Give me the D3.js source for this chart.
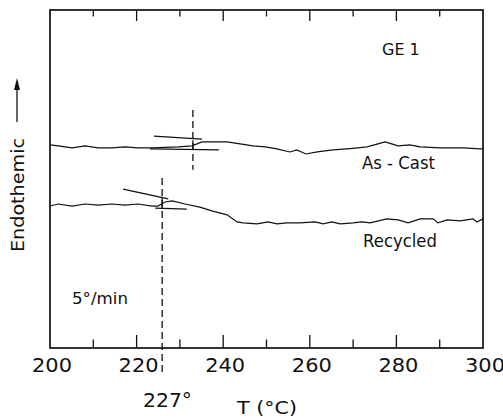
<!DOCTYPE html>
<html>
<head>
<meta charset="utf-8">
<script src="https://cdn.jsdelivr.net/npm/d3@7"></script>
<style>
  body { margin: 0; background: #fff; }
  text { font-family: "DejaVu Sans", sans-serif; fill: #111; }
</style>
</head>
<body>
<svg id="chart"></svg>
<script>
// DSC traces (T in °C, signal in arbitrary units)
const asCastT = [200, 201.9, 205.1, 208.1, 211.1, 214.3, 217.3, 220.3, 223.6, 229.6, 232.8, 235.1, 237.6, 240.9, 243.9, 246.9, 249.7, 252.4, 255.4, 257.0, 259.1, 261.7, 265.4, 268.6, 271.1, 273.2, 277.4, 280.4, 283.1, 285.5, 290.1, 292.4, 295.4, 299.3, 300];
const asCastS = [6.01, 5.98, 5.92, 5.98, 5.92, 5.92, 5.95, 5.92, 5.92, 5.95, 5.98, 6.10, 6.10, 6.10, 6.04, 5.98, 5.95, 5.89, 5.80, 5.86, 5.74, 5.80, 5.86, 5.89, 5.92, 5.95, 6.10, 5.98, 6.01, 5.95, 5.92, 5.92, 5.92, 5.89, 5.89];

const recycledT = [200, 201.9, 205.1, 208.1, 211.1, 214.3, 217.3, 220.3, 223.6, 224.9, 226.6, 228.2, 231.2, 234.6, 237.6, 240.9, 243.2, 244.6, 247.8, 250.4, 252.4, 254.7, 257.7, 261.2, 263.1, 265.1, 267.0, 270.0, 272.1, 273.9, 277.8, 280.4, 282.7, 285.5, 288.5, 289.6, 291.7, 294.7, 297.7, 298.6, 300];
const recycledS = [4.20, 4.26, 4.20, 4.26, 4.23, 4.26, 4.23, 4.26, 4.20, 4.20, 4.32, 4.35, 4.26, 4.17, 4.05, 3.94, 3.73, 3.70, 3.67, 3.73, 3.67, 3.70, 3.70, 3.73, 3.67, 3.73, 3.67, 3.70, 3.73, 3.70, 3.82, 3.79, 3.70, 3.82, 3.82, 3.70, 3.79, 3.76, 3.82, 3.73, 3.82];

// tangent constructions [[T1, S1], [T2, S2]]
const asCastTangents = [[[224.0, 6.27], [235.1, 6.18]], [[223.1, 5.89], [239.0, 5.86]], [[233.0, 6.15], [233.0, 5.89]]];
const recycledTangents = [[[216.9, 4.70], [227.3, 4.41]], [[224.3, 4.14], [231.6, 4.11]], [[225.9, 4.47], [225.9, 4.14]]];

// dashed onset markers: T, from signal, to signal
const onsets = [[233.0, 7.04, 5.27], [225.9, 5.03, -0.80]];

const xTicks = [200, 220, 240, 260, 280, 300];
const minorTicks = [210, 220, 230, 240, 250, 260, 270, 280, 290];

const width = 503, height = 418;
const margin = { top: 10, right: 20, bottom: 70, left: 50 };

const svg = d3.select("#chart").attr("width", width).attr("height", height);

const x = d3.scaleLinear().domain([200, 300]).range([margin.left, width - margin.right]);
const y = d3.scaleLinear().domain([0, 10]).range([height - margin.bottom, margin.top]);

const line = d3.line().x((d) => x(d[0])).y((d) => y(d[1]));

// frame
svg.append("rect")
  .attr("x", x(200)).attr("y", y(10))
  .attr("width", x(300) - x(200)).attr("height", y(0) - y(10))
  .attr("fill", "none").attr("stroke", "#111").attr("stroke-width", 1.7);

// inward ticks, top and bottom
const tickLen = (t) => (t % 20 === 0 ? 13 : 8.5);
svg.selectAll(".tick-b").data(minorTicks).enter().append("line")
  .attr("x1", (d) => x(d)).attr("x2", (d) => x(d))
  .attr("y1", y(0)).attr("y2", (d) => y(0) - tickLen(d))
  .attr("stroke", "#111").attr("stroke-width", 1.3);
svg.selectAll(".tick-t").data(minorTicks).enter().append("line")
  .attr("x1", (d) => x(d)).attr("x2", (d) => x(d))
  .attr("y1", y(10)).attr("y2", (d) => y(10) + tickLen(d) - 2)
  .attr("stroke", "#111").attr("stroke-width", 1.3);

svg.selectAll(".tick-label").data(xTicks).enter().append("text")
  .attr("x", (d) => x(d) + 2).attr("y", y(0) + 24)
  .attr("text-anchor", "middle")
  .style("font-size", "19px")
  .attr("textLength", 40).attr("lengthAdjust", "spacingAndGlyphs")
  .text((d) => d);

// traces
svg.append("path").datum(d3.zip(asCastT, asCastS))
  .attr("d", line).attr("fill", "none").attr("stroke", "#111").attr("stroke-width", 1.2);
svg.append("path").datum(d3.zip(recycledT, recycledS))
  .attr("d", line).attr("fill", "none").attr("stroke", "#111").attr("stroke-width", 1.2);

svg.selectAll(".tangent").data(asCastTangents.concat(recycledTangents)).enter().append("path")
  .attr("d", line).attr("fill", "none").attr("stroke", "#111").attr("stroke-width", 1.3);

svg.selectAll(".onset").data(onsets).enter().append("line")
  .attr("x1", (d) => x(d[0])).attr("x2", (d) => x(d[0]))
  .attr("y1", (d) => y(d[1])).attr("y2", (d) => y(d[2]))
  .attr("stroke", "#111").attr("stroke-width", 1.3)
  .attr("stroke-dasharray", "7,4");

// labels
function label(tx, ty, str, size, len) {
  const t = svg.append("text").attr("x", tx).attr("y", ty)
    .style("font-size", size + "px").text(str);
  if (len) t.attr("textLength", len).attr("lengthAdjust", "spacingAndGlyphs");
  return t;
}
label(382, 55, "GE 1", 16);
label(362, 169, "As - Cast", 17, 73);
label(363, 247, "Recycled", 17, 74);
label(72, 304, "5°/min", 15, 56);
label(143, 407, "227°", 19, 49);
label(237, 414, "T (°C)", 17, 60);

// y axis label with arrow
svg.append("text")
  .attr("transform", "translate(24, 195) rotate(-90)")
  .attr("text-anchor", "middle")
  .style("font-size", "18px")
  .attr("textLength", 114).attr("lengthAdjust", "spacingAndGlyphs")
  .text("Endothemic");
svg.append("line")
  .attr("x1", 17).attr("x2", 17).attr("y1", 122).attr("y2", 86)
  .attr("stroke", "#111").attr("stroke-width", 1.3);
svg.append("path")
  .attr("d", "M17,78 L14,90 L20,90 Z").attr("fill", "#111");
</script>
</body>
</html>
